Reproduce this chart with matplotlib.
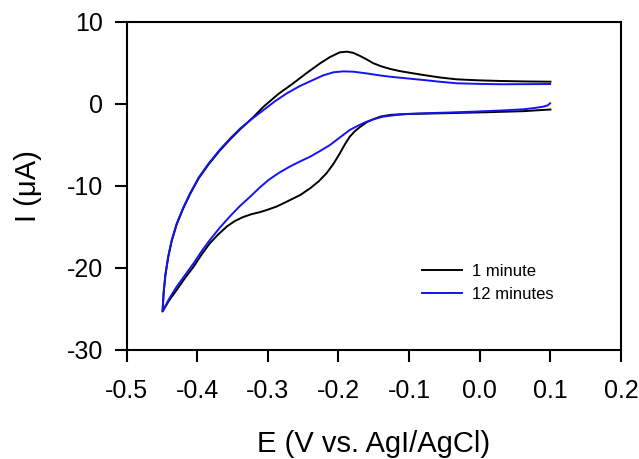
import matplotlib
matplotlib.use("Agg")
import matplotlib.pyplot as plt

plt.rcParams['font.family'] = ['Liberation Sans', 'DejaVu Sans']

# 1 minute (black): cathodic sweep 0.1 -> -0.45 V
e_1min_fwd = [0.100, 0.080, 0.062, 0.030, 0.000, -0.050, -0.099, -0.115, -0.127, -0.140,
              -0.151, -0.160, -0.169, -0.177, -0.184, -0.191, -0.198, -0.207, -0.217, -0.228,
              -0.240, -0.254, -0.269, -0.287, -0.300, -0.311, -0.323, -0.335, -0.347, -0.358,
              -0.370, -0.382, -0.394, -0.405, -0.417, -0.429, -0.440, -0.449]
i_1min_fwd = [-0.7, -0.8, -0.9, -0.98, -1.05, -1.15, -1.24, -1.29, -1.36, -1.55,
              -1.89, -2.25, -2.79, -3.35, -4.01, -4.95, -6.03, -7.3, -8.47, -9.45,
              -10.29, -11.11, -11.75, -12.5, -12.9, -13.2, -13.45, -13.8, -14.3, -14.95,
              -15.9, -16.99, -18.4, -19.84, -21.2, -22.68, -24.0, -25.3]
# 1 minute: anodic sweep -0.45 -> 0.1 V
e_1min_rev = [-0.4475, -0.445, -0.441, -0.436, -0.429, -0.420, -0.410, -0.398, -0.384, -0.368,
              -0.353, -0.339, -0.322, -0.306, -0.285, -0.264, -0.245, -0.226, -0.212, -0.198,
              -0.188, -0.179, -0.170, -0.160, -0.151, -0.139, -0.127, -0.113, -0.095, -0.080,
              -0.056, -0.033, 0.000, 0.029, 0.065, 0.100]
i_1min_rev = [-23.1, -20.9, -18.7, -16.7, -14.7, -12.8, -11.0, -9.1, -7.4, -5.7,
              -4.3, -3.1, -1.75, -0.35, 1.2, 2.5, 3.75, 4.93, 5.7, 6.27,
              6.35, 6.2, 5.85, 5.4, 4.95, 4.55, 4.25, 3.98, 3.72, 3.51,
              3.2, 2.98, 2.85, 2.78, 2.72, 2.69]

# 12 minutes (blue): cathodic sweep
e_12min_fwd = [0.0995, 0.096, 0.090, 0.077, 0.062, 0.030, -0.009, -0.045, -0.080, -0.103,
               -0.120, -0.137, -0.149, -0.160, -0.172, -0.184, -0.198, -0.212, -0.226, -0.240,
               -0.255, -0.269, -0.284, -0.299, -0.312, -0.325, -0.340, -0.354, -0.368, -0.382,
               -0.394, -0.405, -0.417, -0.429, -0.440, -0.449]
i_12min_fwd = [0.06, -0.2, -0.35, -0.52, -0.67, -0.82, -0.96, -1.07, -1.16, -1.24,
               -1.38, -1.57, -1.85, -2.18, -2.65, -3.19, -4.1, -5.02, -5.75, -6.44,
               -7.05, -7.66, -8.4, -9.28, -10.25, -11.32, -12.5, -13.75, -15.1, -16.59,
               -18.0, -19.43, -20.85, -22.28, -23.8, -25.3]
# 12 minutes: anodic sweep
e_12min_rev = [-0.4475, -0.445, -0.441, -0.436, -0.429, -0.420, -0.410, -0.398, -0.384, -0.368,
               -0.353, -0.339, -0.322, -0.306, -0.290, -0.273, -0.255, -0.236, -0.222, -0.207,
               -0.193, -0.179, -0.160, -0.141, -0.127, -0.104, -0.080, -0.056, -0.033, 0.000,
               0.029, 0.065, 0.0995]
i_12min_rev = [-23.0, -20.8, -18.6, -16.6, -14.6, -12.7, -10.9, -9.0, -7.3, -5.6,
               -4.2, -3.0, -1.8, -0.76, 0.3, 1.28, 2.15, 2.90, 3.45, 3.84,
               3.95, 3.91, 3.7, 3.45, 3.30, 3.1, 2.90, 2.68, 2.50, 2.42,
               2.38, 2.39, 2.41]

labels = ["1 minute", "12 minutes"]
colors = ["black", "#1414f0"]
x_ticks = [-0.5, -0.4, -0.3, -0.2, -0.1, 0.0, 0.1, 0.2]
y_ticks = [-30, -20, -10, 0, 10]

fig = plt.figure(figsize=(6.39, 4.59), dpi=100)
ax = fig.add_axes([0.198, 0.2375, 0.774, 0.7152])

ax.plot(e_1min_fwd + e_1min_rev, i_1min_fwd + i_1min_rev, color=colors[0], lw=1.4,
        label=labels[0], solid_joinstyle='round')
ax.plot(e_12min_fwd + e_12min_rev, i_12min_fwd + i_12min_rev, color=colors[1], lw=1.4,
        label=labels[1], solid_joinstyle='round')

ax.set_xlim(-0.5, 0.2)
ax.set_ylim(-30, 10)
ax.set_xticks(x_ticks)
ax.set_xticklabels([f"{t:.1f}" for t in x_ticks])
ax.set_yticks(y_ticks)
ax.set_yticklabels([str(t) for t in y_ticks])

for s in ax.spines.values():
    s.set_linewidth(1.5)
ax.tick_params(axis='both', direction='out', length=8.6, width=1.5, labelsize=18)
ax.tick_params(axis='x', pad=12)
ax.tick_params(axis='y', pad=8)

ax.set_xlabel("E (V vs. AgI/AgCl)", fontsize=21, labelpad=20)
ax.set_ylabel("I (μA)", fontsize=21, labelpad=18)

leg = ax.legend(loc='center left', bbox_to_anchor=(0.597, 0.204), frameon=False,
                fontsize=12, handlelength=2.4, handletextpad=0.6, labelspacing=0.45,
                borderpad=0, borderaxespad=0)

fig.savefig("out.png", dpi=100)
